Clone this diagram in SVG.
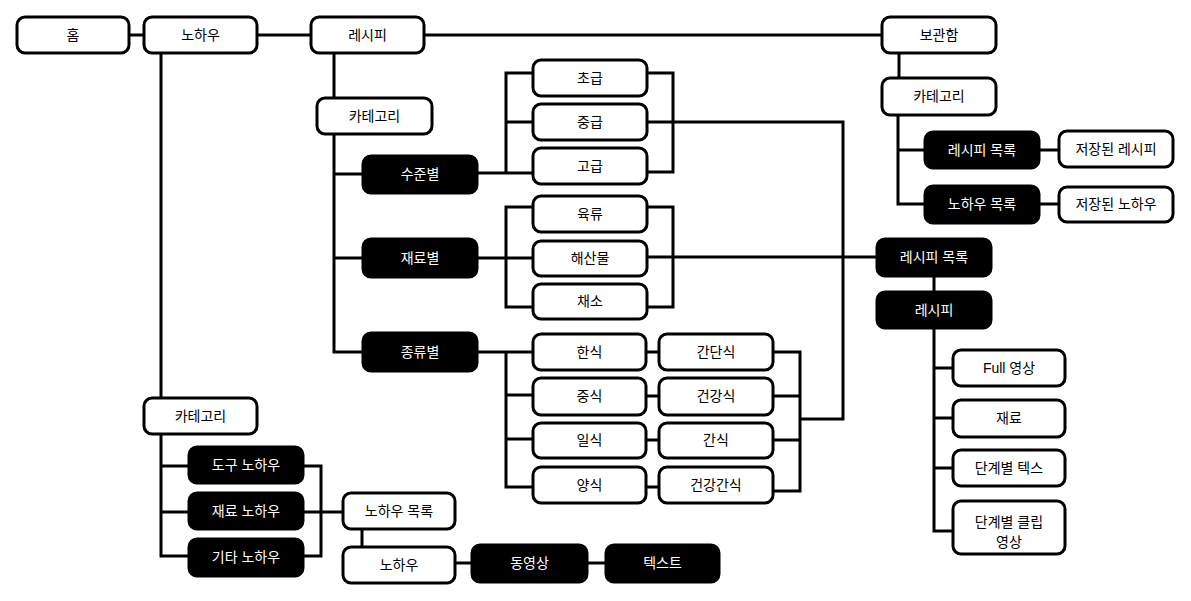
<svg xmlns="http://www.w3.org/2000/svg" width="1191" height="601" viewBox="0 0 1191 601">
<style>
.w rect{fill:#fff;stroke:#000;stroke-width:3}
.b rect{fill:#000;stroke:#000;stroke-width:3}
text{font-family:"Liberation Sans","Noto Sans CJK KR",sans-serif;font-size:14px;text-anchor:middle}
.w text{fill:#000}
.b text{fill:#fff}
#connectors path{fill:none;stroke:#000;stroke-width:3}
</style>
<rect width="1191" height="601" fill="#fff"/>
<g id="connectors">
<path d="M129 35H144M257 35H311M424 35H882"/>
<path d="M161 53V398M161 434V556H189M161 466H189M161 512H189"/>
<path d="M303 466H321V556H303M303 512H343M362 529V547M455 563H472M587 563H606"/>
<path d="M334 53V98M334 134V352H363M334 174H363M334 258H363"/>
<path d="M477 173H533M506 173V73H533M506 122H533M647 73H673V172H647M647 122H843V419H800"/>
<path d="M477 258H533M533 207H506V307H533M647 207H673V307H647M647 257H877"/>
<path d="M477 352H533M506 352V487H533M506 395H533M506 439H533"/>
<path d="M646 352H659M646 396H659M646 440H659M646 487H659"/>
<path d="M773 352H800V491H773M773 396H800M773 440H800"/>
<path d="M899 53V78M898 115V204H925M898 150H925M1039 150H1059M1039 204H1059"/>
<path d="M934 276V292M934 328V531H953M934 368H953M934 418H953M934 468H953"/>
</g>
<g id="n-home" class="w"><rect x="17" y="17" width="112" height="36" rx="8"/><text x="73" y="40">홈</text></g>
<g id="n-knowhow" class="w"><rect x="144" y="17" width="113" height="36" rx="8"/><text x="200.5" y="40">노하우</text></g>
<g id="n-recipe" class="w"><rect x="311" y="17" width="113" height="36" rx="8"/><text x="367.5" y="40">레시피</text></g>
<g id="n-storage" class="w"><rect x="882" y="17" width="114" height="36" rx="8"/><text x="939" y="40">보관함</text></g>
<g id="n-storage-cat" class="w"><rect x="882" y="78" width="114" height="37" rx="8"/><text x="939" y="101">카테고리</text></g>
<g id="n-saved-recipe-list" class="b"><rect x="925" y="132" width="114" height="36" rx="8"/><text x="982" y="155">레시피 목록</text></g>
<g id="n-saved-knowhow-list" class="b"><rect x="925" y="186" width="114" height="37" rx="8"/><text x="982" y="209">노하우 목록</text></g>
<g id="n-saved-recipe" class="w"><rect x="1059" y="131" width="114" height="36" rx="8"/><text x="1116" y="154">저장된 레시피</text></g>
<g id="n-saved-knowhow" class="w"><rect x="1059" y="187" width="114" height="35" rx="8"/><text x="1116" y="209">저장된 노하우</text></g>
<g id="n-recipe-cat" class="w"><rect x="317" y="98" width="115" height="36" rx="8"/><text x="374.5" y="121">카테고리</text></g>
<g id="n-by-level" class="b"><rect x="363" y="156" width="114" height="37" rx="8"/><text x="420" y="179">수준별</text></g>
<g id="n-by-ingredient" class="b"><rect x="363" y="239" width="114" height="38" rx="8"/><text x="420" y="263">재료별</text></g>
<g id="n-by-type" class="b"><rect x="363" y="333" width="114" height="38" rx="8"/><text x="420" y="357">종류별</text></g>
<g id="n-beginner" class="w"><rect x="533" y="60" width="114" height="36" rx="8"/><text x="590" y="83">초급</text></g>
<g id="n-intermediate" class="w"><rect x="533" y="104" width="114" height="36" rx="8"/><text x="590" y="127">중급</text></g>
<g id="n-advanced" class="w"><rect x="533" y="148" width="114" height="36" rx="8"/><text x="590" y="171">고급</text></g>
<g id="n-meat" class="w"><rect x="533" y="196" width="114" height="36" rx="8"/><text x="590" y="219">육류</text></g>
<g id="n-seafood" class="w"><rect x="533" y="241" width="114" height="35" rx="8"/><text x="590" y="263">해산물</text></g>
<g id="n-vegetable" class="w"><rect x="533" y="284" width="114" height="35" rx="8"/><text x="590" y="306">채소</text></g>
<g id="n-korean" class="w"><rect x="533" y="334" width="113" height="36" rx="8"/><text x="589.5" y="357">한식</text></g>
<g id="n-chinese" class="w"><rect x="533" y="378" width="113" height="37" rx="8"/><text x="589.5" y="401">중식</text></g>
<g id="n-japanese" class="w"><rect x="533" y="423" width="113" height="35" rx="8"/><text x="589.5" y="445">일식</text></g>
<g id="n-western" class="w"><rect x="533" y="467" width="113" height="36" rx="8"/><text x="589.5" y="490">양식</text></g>
<g id="n-simple" class="w"><rect x="659" y="334" width="114" height="36" rx="8"/><text x="716" y="357">간단식</text></g>
<g id="n-healthy" class="w"><rect x="659" y="378" width="114" height="37" rx="8"/><text x="716" y="401">건강식</text></g>
<g id="n-snack" class="w"><rect x="659" y="423" width="114" height="35" rx="8"/><text x="716" y="445">간식</text></g>
<g id="n-healthy-snack" class="w"><rect x="659" y="467" width="114" height="36" rx="8"/><text x="716" y="490">건강간식</text></g>
<g id="n-recipe-list" class="b"><rect x="877" y="239" width="114" height="37" rx="8"/><text x="934" y="262">레시피 목록</text></g>
<g id="n-recipe-detail" class="b"><rect x="877" y="292" width="114" height="36" rx="8"/><text x="934" y="315">레시피</text></g>
<g id="n-full-video" class="w"><rect x="953" y="350" width="112" height="36" rx="8"/><text x="1009" y="373">Full 영상</text></g>
<g id="n-ingredients" class="w"><rect x="953" y="400" width="112" height="37" rx="8"/><text x="1009" y="423">재료</text></g>
<g id="n-step-text" class="w"><rect x="953" y="450" width="112" height="36" rx="8"/><text x="1009" y="473">단계별 텍스</text></g>
<g id="n-step-clip" class="w"><rect x="953" y="501" width="112" height="53" rx="8"/><text x="1009" y="527">단계별 클립</text><text x="1009" y="547">영상</text></g>
<g id="n-knowhow-cat" class="w"><rect x="144" y="398" width="113" height="36" rx="8"/><text x="200.5" y="421">카테고리</text></g>
<g id="n-tool-knowhow" class="b"><rect x="189" y="447" width="114" height="36" rx="8"/><text x="246" y="470">도구 노하우</text></g>
<g id="n-ingredient-knowhow" class="b"><rect x="189" y="493" width="114" height="36" rx="8"/><text x="246" y="516">재료 노하우</text></g>
<g id="n-etc-knowhow" class="b"><rect x="189" y="539" width="114" height="37" rx="8"/><text x="246" y="562">기타 노하우</text></g>
<g id="n-knowhow-list" class="w"><rect x="343" y="493" width="112" height="36" rx="8"/><text x="399" y="516">노하우 목록</text></g>
<g id="n-knowhow-detail" class="w"><rect x="343" y="547" width="112" height="36" rx="8"/><text x="399" y="570">노하우</text></g>
<g id="n-video" class="b"><rect x="472" y="545" width="115" height="37" rx="8"/><text x="529.5" y="568">동영상</text></g>
<g id="n-text" class="b"><rect x="606" y="545" width="113" height="37" rx="8"/><text x="662.5" y="568">텍스트</text></g>
</svg>
